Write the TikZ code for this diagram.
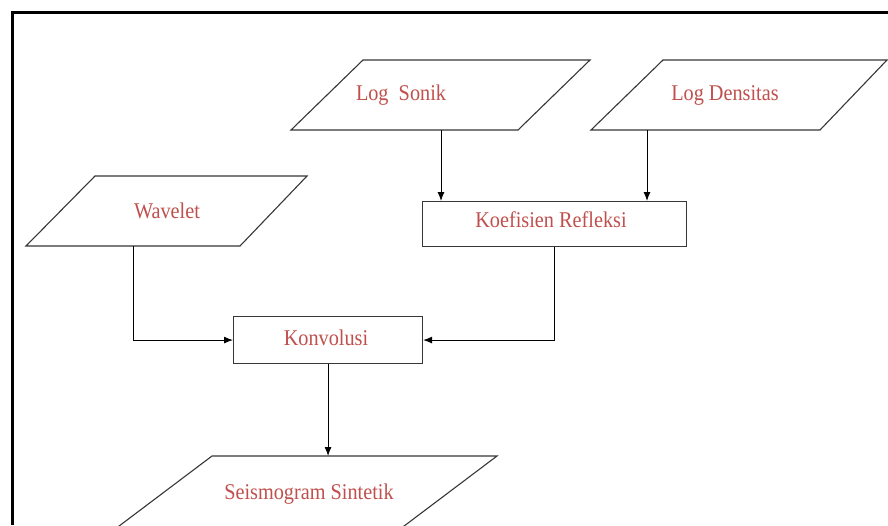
\documentclass[tikz,border=0pt]{standalone}
\usepackage{fontspec}
\setmainfont{Liberation Serif}
\usetikzlibrary{arrows.meta}
\definecolor{txtred}{RGB}{192,80,77}
\definecolor{edge}{RGB}{55,55,55}
\begin{document}
\begin{tikzpicture}[x=1pt,y=-1pt,
  lbl/.style={text=txtred, font=\fontsize{22.5}{24}\selectfont, xscale=0.9, inner sep=0pt, anchor=base},
  io/.style={draw=edge, line width=1.1pt, line join=miter},
  proc/.style={draw=edge, line width=1.1pt, inner sep=0pt, anchor=north west},
  flow/.style={draw=black, line width=1pt, -{Latex[length=9pt,width=7pt]}}]
\useasboundingbox (0,0) rectangle (888,525);
\clip (0,0) rectangle (888,525);
\fill[white] (0,0) rectangle (888,525);
% frame
\draw[line width=3pt] (12,525) -- (12,12) -- (890,12);
% data (parallelogram) shapes
\draw[io] (363,60) -- (590,60) -- (518,130) -- (291,130) -- cycle;
\draw[io] (663,60) -- (887,60) -- (820,130) -- (591,130) -- cycle;
\draw[io] (95,176) -- (307,176) -- (240,246) -- (26,246) -- cycle;
\draw[io] (212,456) -- (497,456) -- (359,560) -- (74,560) -- cycle;
\coordinate (sonikB) at (441,130);
\coordinate (densB) at (647,130);
\coordinate (waveB) at (133,246);
\coordinate (seisT) at (327,456);
% process boxes
\node[proc, minimum width=264pt, minimum height=45pt] (koef) at (422,201) {};
\node[proc, minimum width=189pt, minimum height=47pt] (konv) at (233,316) {};
% labels
\node[lbl] (tsonik) at (401,100.5) {Log\hspace{0.5em}Sonik};
\node[lbl] (tdens) at (725,100) {Log Densitas};
\node[lbl] (twave) at (167,218) {Wavelet};
\node[lbl] (tkoef) at (551,227) {Koefisien Refleksi};
\node[lbl] (tkonv) at (326,345) {Konvolusi};
\node[lbl] (tseis) at (309,499) {Seismogram Sintetik};
% connectors
\draw[flow] (sonikB) -- (sonikB |- koef.north);
\draw[flow] (densB) -- (densB |- koef.north);
\draw[flow] (koef.south) |- (konv.east);
\draw[flow] (waveB) |- (konv.west);
\draw[flow] (konv.south) -- (konv.south |- seisT);
\end{tikzpicture}
\end{document}
